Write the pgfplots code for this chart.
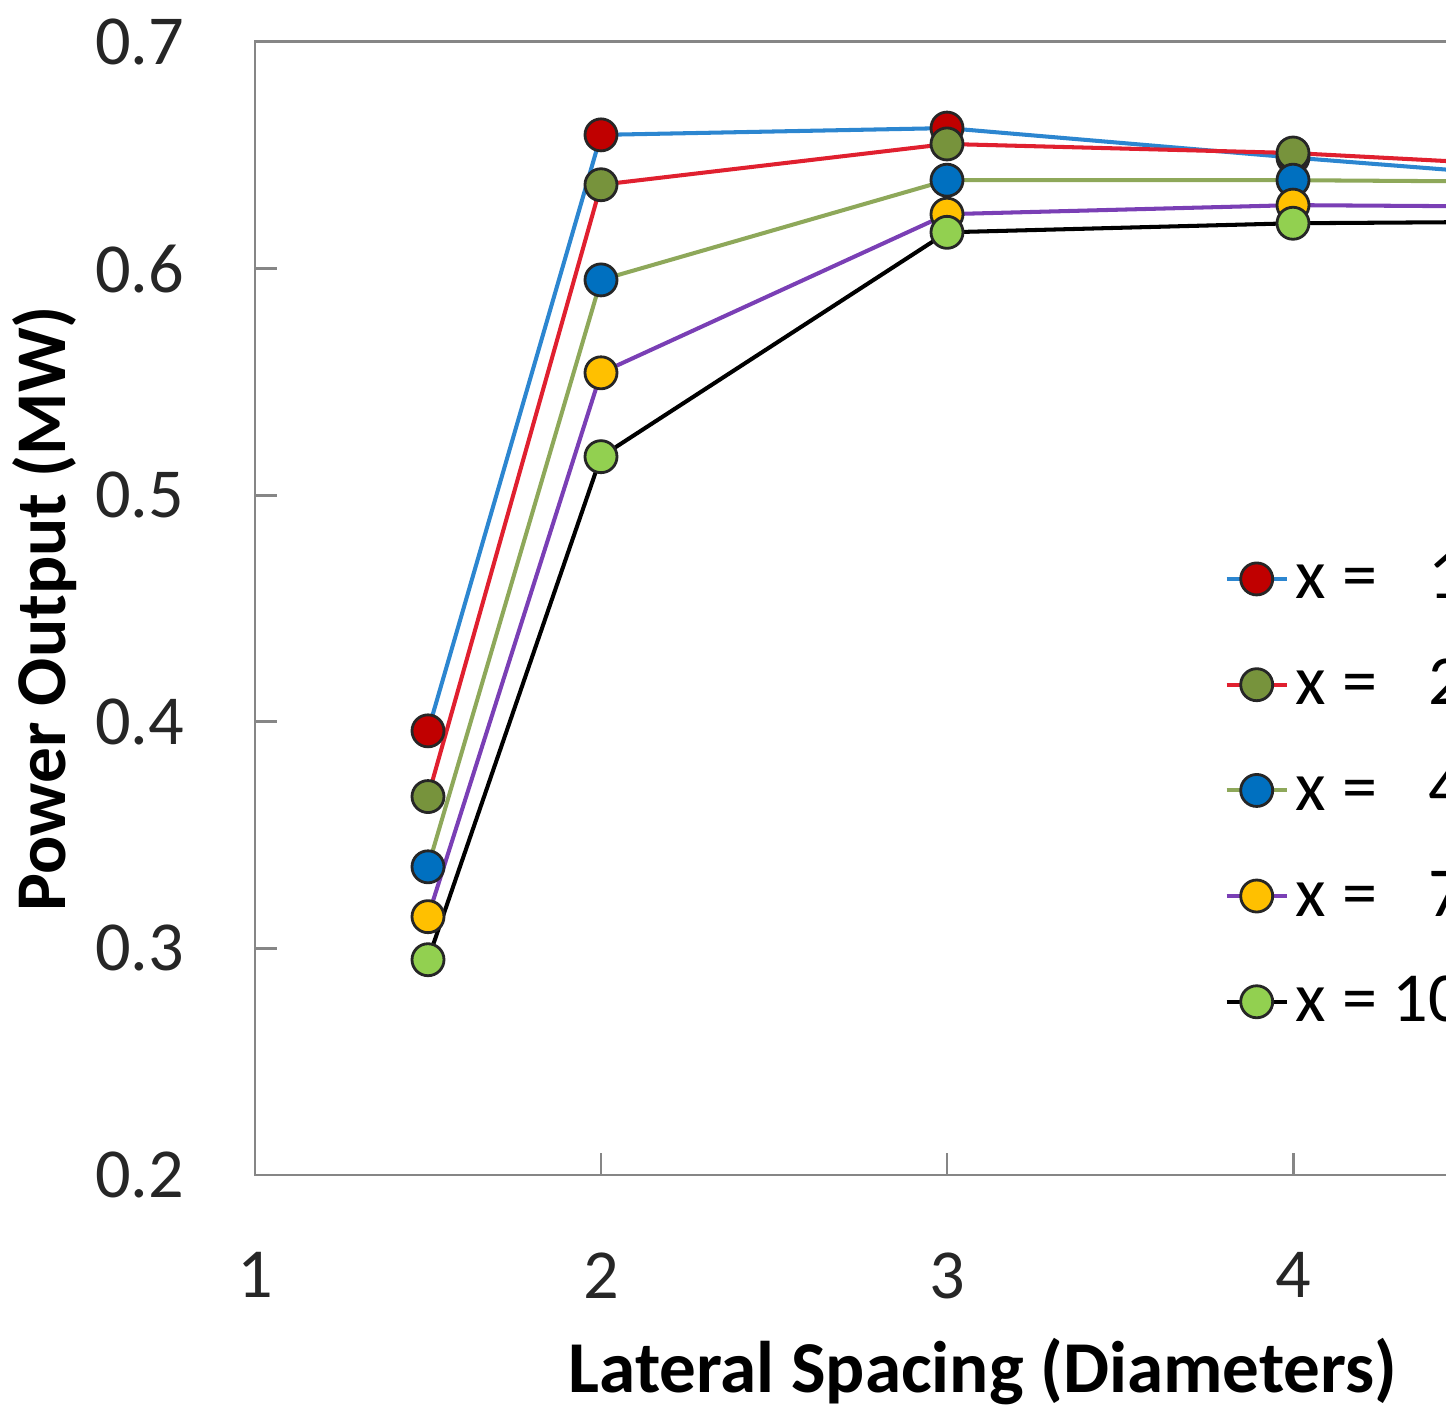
\documentclass[border=0pt]{standalone}
\usepackage{fontspec}
\setmainfont{Carlito}
\usepackage{pgfplots}
\pgfplotsset{compat=1.18}
\definecolor{lblue}{HTML}{2C86D0}
\definecolor{mred}{HTML}{C00000}
\definecolor{lred}{HTML}{E0202F}
\definecolor{molive}{HTML}{77933C}
\definecolor{lolive}{HTML}{8EA85A}
\definecolor{mblue}{HTML}{0070C0}
\definecolor{lpurple}{HTML}{7A3FB5}
\definecolor{morange}{HTML}{FFC000}
\definecolor{mgreen}{HTML}{92D050}
\definecolor{axgray}{HTML}{868686}
\begin{document}
\begin{tikzpicture}
\path[use as bounding box, clip] (-2.55cm,-2.31cm) rectangle (11.91cm,11.75cm);
\begin{axis}[
  at={(0,0)}, anchor=south west,
  x=3.46cm, y=22.66cm,
  xmin=1, xmax=6, ymin=0.2, ymax=0.7,
  xtick={1,2,3,4,5,6}, ytick={0.2,0.3,0.4,0.5,0.6,0.7},
  /pgf/number format/assume math mode=true,
  /pgf/number format/fixed,
  /pgf/number format/precision=1,
  axis line style={draw=axgray, line width=0.85pt},
  tick style={draw=axgray, line width=0.85pt},
  tick align=inside, major tick length=0.22cm,
  xtick pos=bottom, ytick pos=left,
  tick label style={font=\fontsize{20}{24}\selectfont, text=black!85},
  yticklabel style={anchor=east, inner sep=0pt, xshift=-0.70cm},
  xticklabel style={anchor=north, inner sep=0pt, yshift=-0.77cm},
  xlabel={\textbf{Lateral Spacing (Diameters)}},
  ylabel={\textbf{Power Output (MW)}},
  every axis x label/.style={at={(axis description cs:0.4208,-0.1924)}, anchor=base, font=\fontsize{20.8}{24}\selectfont},
  every axis y label/.style={at={(axis description cs:-0.1214,0.5)}, anchor=center, rotate=90, font=\fontsize{20.3}{24}\selectfont},
  legend style={at={(axis cs:3.77,0.4807)}, anchor=north west, draw=none, fill=none,
    font=\fontsize{20}{24}\selectfont, row sep=0.41cm},
  legend cell align=left,
  every axis plot/.append style={line width=1.15pt},
  mark size=1.6mm,
]
\addplot[lblue, mark=*, mark options={fill=mred, draw=black!85, line width=0.8pt}]
  coordinates {(1.5,0.396) (2,0.659) (3,0.662) (4,0.649) (5,0.637) (6,0.630)};
\addlegendentry{x = \phantom{1}1D}
\addplot[lred, mark=*, mark options={fill=molive, draw=black!85, line width=0.8pt}]
  coordinates {(1.5,0.367) (2,0.637) (3,0.655) (4,0.651) (5,0.643) (6,0.638)};
\addlegendentry{x = \phantom{1}2D}
\addplot[lolive, mark=*, mark options={fill=mblue, draw=black!85, line width=0.8pt}]
  coordinates {(1.5,0.336) (2,0.595) (3,0.639) (4,0.639) (5,0.638) (6,0.636)};
\addlegendentry{x = \phantom{1}4D}
\addplot[lpurple, mark=*, mark options={fill=morange, draw=black!85, line width=0.8pt}]
  coordinates {(1.5,0.314) (2,0.554) (3,0.624) (4,0.628) (5,0.627) (6,0.626)};
\addlegendentry{x = \phantom{1}7D}
\addplot[black, mark=*, mark options={fill=mgreen, draw=black!85, line width=0.8pt}]
  coordinates {(1.5,0.295) (2,0.517) (3,0.616) (4,0.620) (5,0.621) (6,0.621)};
\addlegendentry{x = 10D}
\end{axis}
\end{tikzpicture}
\end{document}
